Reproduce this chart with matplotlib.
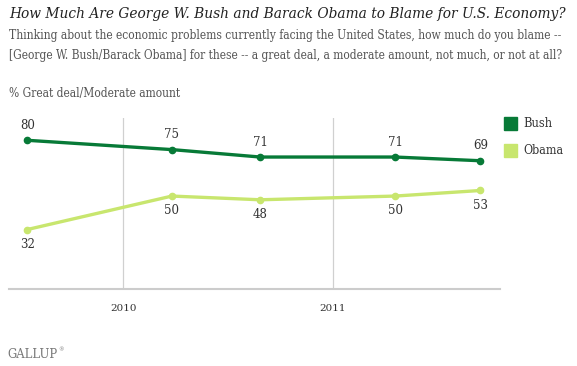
import matplotlib.pyplot as plt
import numpy as np
from datetime import datetime

dates = [datetime(2009, 7, 18), datetime(2010, 3, 27), datetime(2010, 8, 28),
         datetime(2011, 4, 20), datetime(2011, 9, 16)]
bush = [80, 75, 71, 71, 69]
obama = [32, 50, 48, 50, 53]
years = [datetime(2010, 1, 1), datetime(2011, 1, 1)]
year_labels = ["2010", "2011"]

bush_col = "#077a37"
obama_col = "#c8e66e"
serif = ["DejaVu Serif"]

fig = plt.figure(figsize=(5.77, 3.66), dpi=100)
ax = fig.add_axes([9/577, 77/366, 491/577, 171/366])
renderer = fig.canvas.get_renderer()


def fit_text(x, y, s, width_px, **kw):
    # shrink/grow the font so the line spans width_px like the original
    t = fig.text(x, y, s, **kw)
    w = t.get_window_extent(renderer).width
    t.set_fontsize(t.get_fontsize() * width_px / w)
    return t


ax.plot(dates, bush, color=bush_col, lw=2.4, marker="o", ms=4.5, zorder=3)
ax.plot(dates, obama, color=obama_col, lw=2.4, marker="o", ms=4.5, zorder=3)

for d, v in zip(dates, bush):
    ax.annotate(str(v), (d, v), xytext=(0, 6), textcoords="offset points",
                ha="center", va="bottom", fontsize=8.5, family=serif, color="#333333")
for d, v in zip(dates, obama):
    ax.annotate(str(v), (d, v), xytext=(0, -6), textcoords="offset points",
                ha="center", va="top", fontsize=8.5, family=serif, color="#333333")

ax.set_xlim(datetime(2009, 6, 16), datetime(2011, 10, 20))
ax.set_ylim(0, 92)
for y in years:
    ax.axvline(y, color="#d0d0d0", lw=0.9, zorder=1)
ax.set_xticks(years)
ax.set_xticklabels(year_labels, family=serif, fontsize=7.5, color="#333333")
ax.tick_params(axis="x", length=0, pad=11)
ax.set_yticks([])
for s in ["top", "right", "left"]:
    ax.spines[s].set_visible(False)
ax.spines["bottom"].set_color("#cccccc")
ax.spines["bottom"].set_linewidth(1.5)

# legend
fig.patches.append(plt.Rectangle((504/577, 1-130/366), 13/577, 13/366,
                                 transform=fig.transFigure, color=bush_col))
fig.patches.append(plt.Rectangle((504/577, 1-157/366), 13/577, 13/366,
                                 transform=fig.transFigure, color=obama_col))
fit_text(523/577, 1-124/366, "Bush", 29, family=serif, stretch="condensed",
         fontsize=9, va="center", color="#333333")
fit_text(523/577, 1-151/366, "Obama", 40, family=serif, stretch="condensed",
         fontsize=9, va="center", color="#333333")

fit_text(9/577, 1-14/366, "How Much Are George W. Bush and Barack Obama to Blame for U.S. Economy?",
         556, family=serif, style="italic", fontsize=10, va="center", color="#222222")
fit_text(9/577, 1-35/366, "Thinking about the economic problems currently facing the United States, how much do you blame --",
         556, family=serif, stretch="condensed", fontsize=8, va="center", color="#555555")
fit_text(9/577, 1-55/366, "[George W. Bush/Barack Obama] for these -- a great deal, a moderate amount, not much, or not at all?",
         556, family=serif, stretch="condensed", fontsize=8, va="center", color="#555555")
fit_text(9/577, 1-94/366, "% Great deal/Moderate amount",
         172, family=serif, stretch="condensed", fontsize=8, va="center", color="#555555")
g = fit_text(7/577, 1-355/366, "GALLUP", 50, family=serif, fontsize=9, va="center", color="#777777")
gx = g.get_window_extent(renderer).x1
fig.text((gx + 1)/577, 1-350/366, "®", family=serif, fontsize=4, va="center", color="#777777")

fig.savefig("out.png", dpi=100)
